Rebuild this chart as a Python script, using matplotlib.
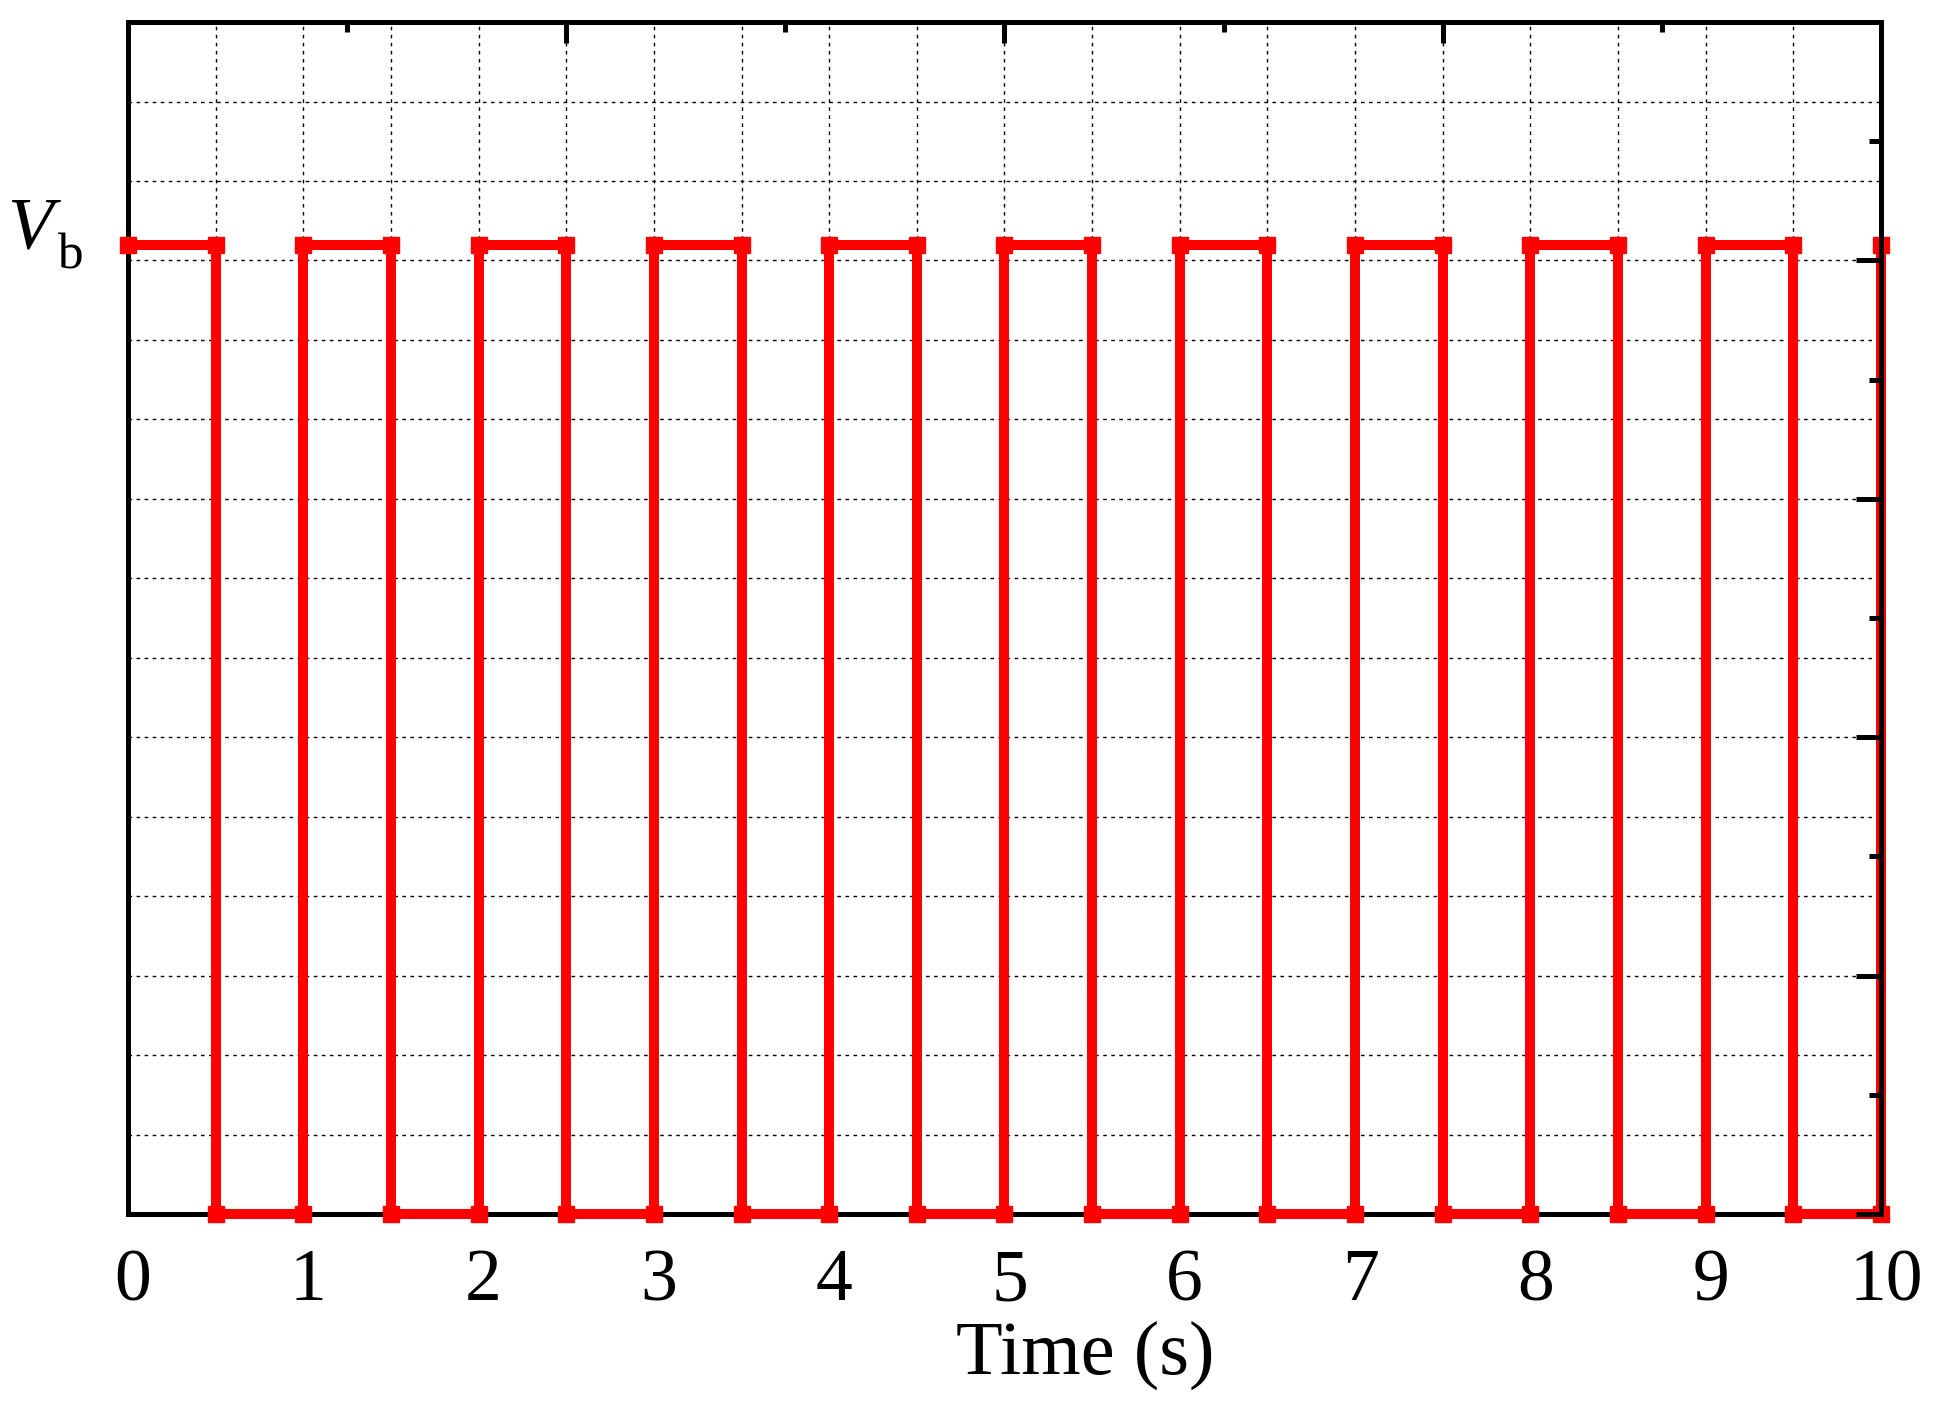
import numpy as np
import matplotlib
matplotlib.use("Agg")
import matplotlib.pyplot as plt
from matplotlib.transforms import ScaledTranslation


# switching instants of the square wave (s) and the on/off state at each vertex
time_s = [0.0, 0.5, 0.5, 1.0, 1.0, 1.5, 1.5, 2.0, 2.0, 2.5, 2.5,
          3.0, 3.0, 3.5, 3.5, 4.0, 4.0, 4.5, 4.5, 5.0, 5.0,
          5.5, 5.5, 6.0, 6.0, 6.5, 6.5, 7.0, 7.0, 7.5, 7.5,
          8.0, 8.0, 8.5, 8.5, 9.0, 9.0, 9.5, 9.5, 10.0, 10.0]
state = [1, 1, 0, 0, 1, 1, 0, 0, 1, 1, 0,
         0, 1, 1, 0, 0, 1, 1, 0, 0, 1,
         1, 0, 0, 1, 1, 0, 0, 1, 1, 0,
         0, 1, 1, 0, 0, 1, 1, 0, 0, 1]
V_HIGH = 1.22

x_tick_labels = ["0", "1", "2", "3", "4", "5", "6", "7", "8", "9", "10"]
top_major = [2.5, 5.0, 7.5]
top_minor = [1.25, 3.75, 6.25, 8.75]
right_major = [0.0, 0.3, 0.6, 0.9, 1.2, 1.5]
right_minor = [0.15, 0.45, 0.75, 1.05, 1.35]


def main():
    plt.rcParams["font.family"] = ["Liberation Serif", "DejaVu Serif"]

    fig = plt.figure(figsize=(19.39, 14.13), dpi=100)
    ax = fig.add_axes([0.066, 0.1408, 0.9041, 0.8436])

    ax.set_xlim(0, 10)
    ax.set_ylim(0, 1.5)

    # grid: every 0.5 s and every 0.1 units
    ax.set_xticks(np.arange(11), x_tick_labels)
    ax.set_xticks(np.arange(0.5, 10, 1.0), minor=True)
    ax.set_yticks(np.arange(0, 1.51, 0.1), [])
    ax.grid(which="both", color="black", linestyle=(0, (2.6, 3.2)), linewidth=1.0)
    ax.tick_params(which="both", length=0, labelsize=53, pad=25)
    shift = ScaledTranslation(0.05, 0, fig.dpi_scale_trans)
    for lab in ax.get_xticklabels():
        lab.set_transform(lab.get_transform() + shift)

    for sp in ax.spines.values():
        sp.set_linewidth(3.6)

    ax.plot(time_s, V_HIGH * np.array(state), color="#ff0000", linewidth=7.2,
            marker="s", markersize=11.5, clip_on=False, zorder=3)

    # right-hand ticks (drawn over the trace)
    ax_r = ax.twinx()
    ax_r.set_ylim(0, 1.5)
    ax_r.set_yticks(right_major, [])
    ax_r.set_yticks(right_minor, minor=True)
    ax_r.tick_params(which="major", direction="in", length=18, width=3.6)
    ax_r.tick_params(which="minor", direction="in", length=9, width=3.6)
    for name, sp in ax_r.spines.items():
        sp.set_visible(name == "right")
        sp.set_linewidth(3.6)

    # top ticks
    ax_t = ax.twiny()
    ax_t.set_xlim(0, 10)
    ax_t.set_xticks(top_major, [])
    ax_t.set_xticks(top_minor, minor=True)
    ax_t.tick_params(which="major", direction="in", length=15, width=3.6)
    ax_t.tick_params(which="minor", direction="in", length=7, width=3.6)
    for sp in ax_t.spines.values():
        sp.set_visible(False)

    ax.text(0.546, -0.134, "Time (s)", transform=ax.transAxes,
            ha="center", va="baseline", fontsize=55)
    ax.text(-0.069, 0.81, "V", transform=ax.transAxes, style="italic",
            ha="left", va="baseline", fontsize=54)
    ax.text(-0.0405, 0.7936, "b", transform=ax.transAxes,
            ha="left", va="baseline", fontsize=37)

    fig.savefig("out.png", dpi=100)
    plt.close(fig)


if __name__ == "__main__":
    main()
